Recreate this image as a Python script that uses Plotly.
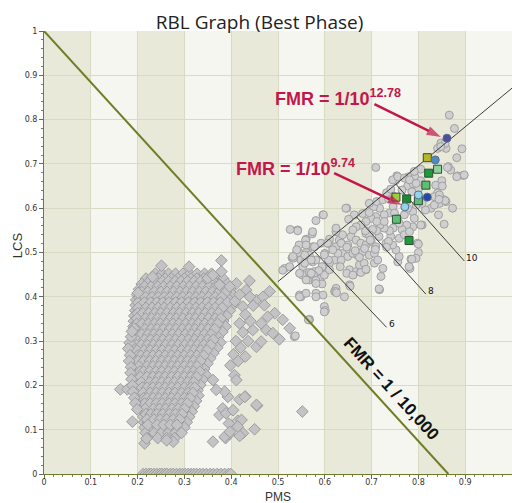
import plotly.graph_objects as go

# ---------------- data ----------------
x_ticks = [0, 0.1, 0.2, 0.3, 0.4, 0.5, 0.6, 0.7, 0.8, 0.9, 1.0]

# impostor cluster: rows (y) with x positions
imp_row_y = [0.452, 0.441, 0.429, 0.417, 0.405, 0.393, 0.381, 0.369, 0.357, 0.345,
             0.333, 0.321, 0.309, 0.297, 0.285, 0.273, 0.261, 0.249, 0.237, 0.225,
             0.213, 0.201, 0.189, 0.177, 0.165, 0.153, 0.141, 0.129, 0.117, 0.105,
             0.093, 0.081]
imp_row_x = [
    [0.238, 0.252, 0.266, 0.281, 0.297, 0.312, 0.327, 0.343, 0.358],
    [0.218, 0.231, 0.245, 0.259, 0.272, 0.286, 0.300, 0.314, 0.327, 0.341, 0.355, 0.369, 0.383],
    [0.209, 0.222, 0.236, 0.249, 0.263, 0.277, 0.291, 0.304, 0.318, 0.332, 0.346, 0.360, 0.374, 0.392],
    [0.203, 0.216, 0.229, 0.243, 0.256, 0.270, 0.284, 0.297, 0.311, 0.325, 0.339, 0.353, 0.367, 0.381, 0.398],
    [0.199, 0.211, 0.224, 0.237, 0.250, 0.263, 0.277, 0.290, 0.304, 0.318, 0.331, 0.345, 0.359, 0.373, 0.387, 0.403],
    [0.197, 0.206, 0.218, 0.231, 0.244, 0.257, 0.270, 0.284, 0.297, 0.311, 0.325, 0.338, 0.352, 0.366, 0.380, 0.396],
    [0.196, 0.211, 0.224, 0.237, 0.250, 0.263, 0.277, 0.290, 0.304, 0.318, 0.331, 0.345, 0.359, 0.373, 0.388, 0.404],
    [0.195, 0.205, 0.218, 0.231, 0.244, 0.257, 0.270, 0.284, 0.297, 0.311, 0.325, 0.338, 0.352, 0.366, 0.381, 0.397],
    [0.193, 0.211, 0.224, 0.237, 0.250, 0.263, 0.277, 0.290, 0.304, 0.318, 0.331, 0.345, 0.359, 0.374, 0.390],
    [0.192, 0.204, 0.217, 0.230, 0.243, 0.256, 0.270, 0.283, 0.297, 0.311, 0.324, 0.338, 0.352, 0.367, 0.383],
    [0.191, 0.210, 0.223, 0.236, 0.249, 0.262, 0.276, 0.289, 0.303, 0.317, 0.330, 0.344, 0.358, 0.373, 0.388],
    [0.190, 0.203, 0.216, 0.229, 0.242, 0.255, 0.269, 0.282, 0.296, 0.310, 0.323, 0.337, 0.351, 0.366, 0.381],
    [0.190, 0.209, 0.222, 0.235, 0.248, 0.261, 0.275, 0.288, 0.302, 0.316, 0.329, 0.343, 0.357, 0.372],
    [0.190, 0.202, 0.215, 0.228, 0.241, 0.254, 0.268, 0.281, 0.295, 0.309, 0.322, 0.336, 0.350, 0.365, 0.377],
    [0.191, 0.208, 0.221, 0.234, 0.247, 0.260, 0.274, 0.287, 0.301, 0.315, 0.328, 0.342, 0.356, 0.370],
    [0.192, 0.201, 0.214, 0.227, 0.240, 0.253, 0.267, 0.280, 0.294, 0.308, 0.321, 0.335, 0.349, 0.362],
    [0.193, 0.207, 0.220, 0.233, 0.246, 0.259, 0.273, 0.286, 0.300, 0.314, 0.327, 0.341, 0.355],
    [0.195, 0.201, 0.213, 0.226, 0.239, 0.252, 0.266, 0.279, 0.293, 0.307, 0.320, 0.334, 0.349],
    [0.196, 0.207, 0.220, 0.233, 0.246, 0.259, 0.273, 0.286, 0.300, 0.314, 0.327, 0.342],
    [0.198, 0.213, 0.226, 0.239, 0.252, 0.266, 0.279, 0.293, 0.307, 0.320, 0.334, 0.345],
    [0.200, 0.207, 0.220, 0.233, 0.246, 0.259, 0.273, 0.286, 0.300, 0.314, 0.327, 0.339],
    [0.203, 0.214, 0.227, 0.240, 0.253, 0.267, 0.280, 0.294, 0.308, 0.321, 0.334],
    [0.205, 0.220, 0.233, 0.246, 0.259, 0.273, 0.286, 0.300, 0.314, 0.328],
    [0.207, 0.214, 0.227, 0.240, 0.253, 0.267, 0.280, 0.294, 0.308, 0.321, 0.330],
    [0.208, 0.221, 0.234, 0.247, 0.260, 0.274, 0.287, 0.301, 0.315, 0.325],
    [0.209, 0.215, 0.228, 0.241, 0.254, 0.268, 0.281, 0.295, 0.309, 0.320],
    [0.211, 0.222, 0.235, 0.248, 0.261, 0.275, 0.288, 0.302, 0.316],
    [0.212, 0.229, 0.242, 0.255, 0.269, 0.282, 0.296, 0.310],
    [0.214, 0.222, 0.236, 0.249, 0.263, 0.277, 0.291, 0.305],
    [0.215, 0.229, 0.243, 0.257, 0.271, 0.286, 0.300],
    [0.217, 0.236, 0.251, 0.266, 0.281, 0.294],
    [0.220, 0.243, 0.262, 0.279],
]

# denser inner part of the impostor cluster (between the rows above)
imp_inner_y = [0.435, 0.423, 0.411, 0.399, 0.387, 0.375, 0.363, 0.351, 0.339, 0.327,
               0.315, 0.303, 0.291, 0.279, 0.267, 0.255, 0.243, 0.231, 0.219, 0.207,
               0.195, 0.183, 0.171, 0.159, 0.147, 0.135, 0.123, 0.111]
imp_inner_x = [
    [0.225, 0.239, 0.253, 0.266, 0.280, 0.293, 0.307, 0.321, 0.335, 0.349, 0.362],
    [0.215, 0.229, 0.243, 0.256, 0.270, 0.284, 0.298, 0.311, 0.325, 0.339, 0.353, 0.367, 0.380],
    [0.209, 0.222, 0.236, 0.250, 0.263, 0.277, 0.291, 0.304, 0.318, 0.332, 0.346, 0.360, 0.374, 0.389],
    [0.204, 0.217, 0.231, 0.244, 0.257, 0.270, 0.284, 0.297, 0.311, 0.325, 0.338, 0.352, 0.366, 0.380],
    [0.201, 0.214, 0.228, 0.241, 0.254, 0.267, 0.281, 0.294, 0.308, 0.322, 0.335, 0.349, 0.363, 0.377, 0.392],
    [0.201, 0.218, 0.231, 0.244, 0.257, 0.270, 0.284, 0.297, 0.311, 0.325, 0.338, 0.352, 0.366, 0.381],
    [0.200, 0.211, 0.224, 0.237, 0.250, 0.263, 0.277, 0.290, 0.304, 0.318, 0.331, 0.345, 0.359, 0.373],
    [0.199, 0.217, 0.230, 0.243, 0.256, 0.270, 0.283, 0.297, 0.311, 0.324, 0.338, 0.352, 0.366, 0.378],
    [0.198, 0.210, 0.223, 0.236, 0.249, 0.262, 0.276, 0.289, 0.303, 0.317, 0.330, 0.344, 0.358, 0.371],
    [0.197, 0.216, 0.229, 0.242, 0.255, 0.269, 0.282, 0.296, 0.310, 0.323, 0.337, 0.351, 0.365],
    [0.197, 0.209, 0.222, 0.235, 0.248, 0.261, 0.275, 0.288, 0.302, 0.316, 0.329, 0.343, 0.357],
    [0.197, 0.215, 0.228, 0.241, 0.254, 0.268, 0.281, 0.295, 0.309, 0.322, 0.336, 0.350, 0.362],
    [0.198, 0.208, 0.221, 0.234, 0.247, 0.260, 0.274, 0.287, 0.301, 0.315, 0.328, 0.342, 0.356],
    [0.199, 0.214, 0.227, 0.240, 0.253, 0.267, 0.280, 0.294, 0.308, 0.321, 0.335, 0.348],
    [0.200, 0.207, 0.220, 0.233, 0.246, 0.259, 0.273, 0.286, 0.300, 0.314, 0.327, 0.341],
    [0.201, 0.213, 0.226, 0.239, 0.252, 0.266, 0.279, 0.293, 0.307, 0.320, 0.334],
    [0.203, 0.220, 0.233, 0.246, 0.259, 0.273, 0.286, 0.300, 0.314, 0.327],
    [0.205, 0.213, 0.226, 0.239, 0.252, 0.266, 0.279, 0.293, 0.307, 0.320, 0.333],
    [0.206, 0.220, 0.233, 0.246, 0.259, 0.273, 0.286, 0.300, 0.314, 0.326],
    [0.208, 0.226, 0.239, 0.252, 0.266, 0.279, 0.293, 0.307, 0.320],
    [0.210, 0.220, 0.233, 0.246, 0.259, 0.273, 0.286, 0.300, 0.314, 0.322],
    [0.212, 0.227, 0.240, 0.253, 0.267, 0.280, 0.294, 0.308, 0.318],
    [0.213, 0.220, 0.233, 0.246, 0.259, 0.273, 0.286, 0.300, 0.312],
    [0.215, 0.227, 0.240, 0.253, 0.267, 0.280, 0.294, 0.306],
    [0.216, 0.234, 0.247, 0.260, 0.274, 0.287, 0.300],
    [0.218, 0.228, 0.241, 0.254, 0.268, 0.281, 0.295],
    [0.220, 0.235, 0.248, 0.262, 0.276, 0.290],
    [0.222, 0.242, 0.256, 0.270, 0.284],
]

# impostor scores scattered around the cluster edge
imp_edge = [
    (0.163, 0.191), (0.178, 0.191), (0.189, 0.118), (0.552, 0.141), (0.455, 0.154),
    (0.450, 0.101), (0.430, 0.175), (0.418, 0.168), (0.395, 0.114), (0.414, 0.120),
    (0.425, 0.092), (0.418, 0.086), (0.388, 0.081), (0.396, 0.090), (0.361, 0.073),
    (0.276, 0.073), (0.262, 0.076), (0.215, 0.069), (0.219, 0.080),
    (0.251, 0.470), (0.310, 0.468), (0.379, 0.482), (0.379, 0.457), (0.201, 0.409),
    (0.192, 0.329), (0.439, 0.436), (0.432, 0.415), (0.232, 0.445), (0.411, 0.430),
    (0.397, 0.423), (0.425, 0.378), (0.454, 0.393), (0.454, 0.287), (0.446, 0.325),
    (0.407, 0.223), (0.411, 0.212), (0.429, 0.174), (0.454, 0.156), (0.422, 0.122),
    (0.414, 0.107), (0.386, 0.084), (0.397, 0.095), (0.375, 0.133), (0.382, 0.148),
    (0.389, 0.137), (0.404, 0.144), (0.393, 0.174), (0.386, 0.186), (0.368, 0.190),
    (0.361, 0.212), (0.468, 0.400), (0.482, 0.412), (0.471, 0.381), (0.493, 0.363),
    (0.478, 0.355), (0.510, 0.348), (0.525, 0.329), (0.464, 0.340), (0.475, 0.325),
    (0.489, 0.318), (0.503, 0.304), (0.464, 0.299), (0.440, 0.400), (0.447, 0.380),
    (0.430, 0.360), (0.441, 0.345), (0.418, 0.340), (0.425, 0.320), (0.436, 0.300),
    (0.410, 0.300), (0.420, 0.285), (0.405, 0.270), (0.415, 0.255), (0.398, 0.245),
    (0.430, 0.265), (0.408, 0.390), (0.418, 0.405), (0.350, 0.442), (0.361, 0.449),
    (0.375, 0.427),
    (0.183, 0.296), (0.180, 0.283), (0.184, 0.268), (0.182, 0.255), (0.186, 0.241),
    (0.185, 0.228), (0.187, 0.214), (0.189, 0.200), (0.190, 0.186), (0.193, 0.172),
    (0.195, 0.160), (0.199, 0.146), (0.186, 0.310), (0.188, 0.322),
]

# impostor scores sitting on LCS = 0
imp_zero_x = [0.212, 0.218, 0.224, 0.229, 0.235, 0.241, 0.247, 0.252, 0.258, 0.263,
              0.270, 0.276, 0.283, 0.290, 0.296, 0.302, 0.308, 0.314, 0.320, 0.326,
              0.333, 0.340, 0.347, 0.355, 0.362, 0.370, 0.378, 0.386, 0.394, 0.399]

# genuine scores (grey circles)
genuine = [
    (0.542, 0.551), (0.545, 0.517), (0.560, 0.530), (0.573, 0.542), (0.560, 0.500),
    (0.540, 0.500), (0.530, 0.488), (0.549, 0.483), (0.574, 0.513), (0.592, 0.521),
    (0.600, 0.498), (0.610, 0.519), (0.624, 0.513), (0.631, 0.528), (0.649, 0.517),
    (0.656, 0.536), (0.667, 0.528), (0.677, 0.521), (0.688, 0.517), (0.699, 0.525),
    (0.709, 0.513), (0.688, 0.543), (0.638, 0.498), (0.649, 0.491), (0.660, 0.498),
    (0.670, 0.494), (0.681, 0.502), (0.695, 0.494), (0.706, 0.498), (0.621, 0.483),
    (0.635, 0.483), (0.610, 0.476), (0.596, 0.468), (0.589, 0.455), (0.578, 0.457),
    (0.567, 0.438), (0.580, 0.434), (0.589, 0.440), (0.599, 0.449), (0.553, 0.468),
    (0.514, 0.464), (0.574, 0.479), (0.653, 0.461), (0.667, 0.457), (0.677, 0.457),
    (0.688, 0.461), (0.674, 0.472), (0.684, 0.476), (0.720, 0.446), (0.717, 0.416),
    (0.624, 0.419), (0.621, 0.412), (0.653, 0.427), (0.546, 0.404), (0.549, 0.400),
    (0.581, 0.408), (0.599, 0.378), (0.601, 0.369), (0.567, 0.349), (0.706, 0.476),
    (0.713, 0.483), (0.756, 0.479), (0.759, 0.491), (0.731, 0.521), (0.741, 0.536),
    (0.716, 0.536), (0.638, 0.540), (0.624, 0.547),
    (0.709, 0.692), (0.754, 0.673), (0.751, 0.662), (0.779, 0.671), (0.793, 0.670),
    (0.777, 0.650), (0.789, 0.655), (0.805, 0.662), (0.800, 0.643), (0.786, 0.637),
    (0.765, 0.641), (0.850, 0.662), (0.837, 0.652), (0.851, 0.650), (0.841, 0.634),
    (0.834, 0.626), (0.855, 0.619), (0.869, 0.686), (0.884, 0.673), (0.896, 0.674),
    (0.864, 0.694), (0.873, 0.600), (0.845, 0.611), (0.827, 0.600), (0.815, 0.596),
    (0.808, 0.611), (0.795, 0.607), (0.788, 0.592), (0.843, 0.585), (0.855, 0.564),
    (0.808, 0.562), (0.791, 0.577), (0.788, 0.558), (0.775, 0.562), (0.765, 0.552),
    (0.759, 0.566), (0.746, 0.555), (0.738, 0.549), (0.727, 0.555), (0.718, 0.562),
    (0.711, 0.549), (0.702, 0.552), (0.695, 0.540), (0.687, 0.549), (0.798, 0.521),
    (0.800, 0.500), (0.795, 0.487), (0.784, 0.485), (0.782, 0.464), (0.752, 0.506),
    (0.745, 0.517), (0.736, 0.525), (0.732, 0.512), (0.759, 0.532), (0.770, 0.540),
    (0.781, 0.547), (0.717, 0.600), (0.704, 0.603), (0.695, 0.611), (0.711, 0.615),
    (0.724, 0.619), (0.736, 0.622), (0.745, 0.628), (0.732, 0.635), (0.741, 0.643),
    (0.746, 0.604), (0.738, 0.589), (0.749, 0.589), (0.727, 0.585), (0.709, 0.581),
    (0.699, 0.577), (0.688, 0.570), (0.677, 0.562), (0.667, 0.558), (0.681, 0.588),
    (0.695, 0.590), (0.711, 0.570), (0.727, 0.570), (0.756, 0.577), (0.770, 0.585),
    (0.777, 0.600), (0.647, 0.600), (0.663, 0.585), (0.651, 0.575), (0.596, 0.585),
    (0.581, 0.572), (0.559, 0.528), (0.574, 0.547), (0.542, 0.549), (0.526, 0.552),
    (0.610, 0.530), (0.624, 0.555), (0.635, 0.521), (0.647, 0.512), (0.665, 0.504),
    (0.674, 0.489), (0.685, 0.509), (0.697, 0.528), (0.708, 0.507), (0.628, 0.498),
    (0.617, 0.506), (0.608, 0.483), (0.599, 0.495), (0.594, 0.468), (0.587, 0.459),
    (0.576, 0.449), (0.567, 0.455), (0.557, 0.476), (0.544, 0.500), (0.540, 0.506),
    (0.533, 0.487), (0.552, 0.449), (0.581, 0.437), (0.594, 0.429), (0.610, 0.461),
    (0.633, 0.468), (0.647, 0.453), (0.660, 0.449), (0.677, 0.455), (0.688, 0.462),
    (0.623, 0.412), (0.642, 0.400), (0.596, 0.404), (0.581, 0.400), (0.567, 0.494),
    (0.581, 0.483), (0.606, 0.521), (0.660, 0.551), (0.724, 0.464),
    (0.866, 0.810), (0.877, 0.780), (0.848, 0.747), (0.859, 0.735), (0.841, 0.735),
    (0.893, 0.734), (0.882, 0.714), (0.862, 0.692), (0.898, 0.675), (0.882, 0.671),
    (0.805, 0.688), (0.791, 0.683), (0.745, 0.664), (0.756, 0.671), (0.770, 0.668),
    (0.781, 0.664), (0.795, 0.656), (0.845, 0.630), (0.859, 0.615), (0.834, 0.607),
    (0.645, 0.600), (0.597, 0.585), (0.857, 0.746), (0.848, 0.739), (0.857, 0.617),
    (0.844, 0.620), (0.805, 0.562), (0.800, 0.519), (0.786, 0.485), (0.780, 0.468),
    (0.510, 0.460), (0.525, 0.468), (0.546, 0.453), (0.560, 0.438), (0.571, 0.453),
    (0.581, 0.430), (0.560, 0.408), (0.546, 0.400), (0.535, 0.310), (0.567, 0.348),
    (0.578, 0.513), (0.560, 0.517), (0.532, 0.491), (0.557, 0.494), (0.571, 0.483),
    (0.599, 0.366), (0.565, 0.348), (0.537, 0.312), (0.625, 0.409), (0.654, 0.424),
    (0.716, 0.418),
]

# highlighted genuine samples
hl_circle_x = [0.861, 0.836, 0.800, 0.819, 0.771]
hl_circle_y = [0.758, 0.709, 0.630, 0.625, 0.603]
hl_circle_col = ["#4c4f9e", "#4a8dc6", "#92d4ec", "#2546aa", "#92d4ec"]
hl_square_x = [0.819, 0.841, 0.822, 0.816, 0.775, 0.752, 0.800, 0.753, 0.780]
hl_square_y = [0.714, 0.688, 0.679, 0.652, 0.621, 0.625, 0.617, 0.575, 0.527]
hl_square_col = ["#b8b52c", "#8fd19e", "#1f9a3c", "#5cc074", "#1b8a34",
                 "#9ccd3c", "#5cc074", "#5cc07a", "#1f9a3c"]

# reference lines
fmr_line_x = [0.0, 0.864]
fmr_line_y = [1.0, 0.0]
diag_x = [0.4996, 1.0]
diag_y = [0.434, 0.871]
iso_labels = ["6", "8", "10"]
iso_x0 = [0.578, 0.668, 0.752]
iso_y0 = [0.502, 0.580, 0.654]
iso_x1 = [0.732, 0.816, 0.898]
iso_y1 = [0.331, 0.406, 0.481]

# callout arrows (tail -> head)
arrow_x = [[0.706, 0.848], [0.620, 0.765]]
arrow_y = [[0.835, 0.761], [0.679, 0.607]]

# ---------------- figure ----------------
fig = go.Figure()

band_dark = "#e8e9d8"
shapes = []
for i in range(len(x_ticks) - 1):
    if i % 2 == 0:
        shapes.append(dict(type="rect", xref="x", yref="y", x0=x_ticks[i], x1=x_ticks[i + 1],
                           y0=0, y1=1, fillcolor=band_dark, line=dict(width=0), layer="below"))

ix, iy = [], []
for yv, xs in zip(imp_row_y, imp_row_x):
    for xv in xs:
        ix.append(xv)
        iy.append(yv)
for yv, xs in zip(imp_inner_y, imp_inner_x):
    for xv in xs:
        ix.append(xv)
        iy.append(yv)
for xv, yv in imp_edge:
    ix.append(xv)
    iy.append(yv)
for xv in imp_zero_x:
    ix.append(xv)
    iy.append(0.0)

fig.add_trace(go.Scatter(x=ix, y=iy, mode="markers",
                         marker=dict(symbol="diamond", size=9, color="#c3c3c5",
                                     line=dict(color="#9c9c9f", width=1))))

fig.add_trace(go.Scatter(x=[p[0] for p in genuine], y=[p[1] for p in genuine], mode="markers",
                         marker=dict(symbol="circle", size=8, color="#cfcfd0",
                                     line=dict(color="#a0a0a3", width=1))))

fig.add_trace(go.Scatter(x=fmr_line_x, y=fmr_line_y, mode="lines",
                         line=dict(color="#6f7d24", width=2)))
fig.add_trace(go.Scatter(x=diag_x, y=diag_y, mode="lines",
                         line=dict(color="#3c3c3c", width=1)))
for k in range(len(iso_labels)):
    fig.add_trace(go.Scatter(x=[iso_x0[k], iso_x1[k]], y=[iso_y0[k], iso_y1[k]], mode="lines",
                             line=dict(color="#3c3c3c", width=1)))

fig.add_trace(go.Scatter(x=hl_square_x, y=hl_square_y, mode="markers",
                         marker=dict(symbol="square", size=8, color=hl_square_col,
                                     line=dict(color="#2f4f2f", width=1))))
fig.add_trace(go.Scatter(x=hl_circle_x, y=hl_circle_y, mode="markers",
                         marker=dict(symbol="circle", size=8, color=hl_circle_col,
                                     line=dict(color="#5a6a8a", width=1))))

red = "#c3174b"
for ax_, ay_ in zip(arrow_x, arrow_y):
    fig.add_trace(go.Scatter(x=ax_, y=ay_, mode="lines+markers", cliponaxis=False,
                             line=dict(color=red, width=2.5),
                             marker=dict(symbol=["circle", "arrow"], size=[0, 15], angleref="previous",
                                         color=red, line=dict(width=0))))

ann = []
for k in range(len(iso_labels)):
    ann.append(dict(x=iso_x1[k], y=iso_y1[k], xref="x", yref="y", text=iso_labels[k],
                    showarrow=False, xanchor="left", yanchor="middle", xshift=0, yshift=3,
                    font=dict(family="DejaVu Sans", size=9, color="#111")))
ann.append(dict(x=0.490, y=0.851, xref="x", yref="y", text="<b>FMR = 1/10<sup>12.78</sup></b>",
                showarrow=False, xanchor="left", yanchor="middle",
                font=dict(family="Liberation Sans", size=18, color=red)))
ann.append(dict(x=0.407, y=0.693, xref="x", yref="y", text="<b>FMR = 1/10<sup>9.74</sup></b>",
                showarrow=False, xanchor="left", yanchor="middle",
                font=dict(family="Liberation Sans", size=18, color=red)))
ann.append(dict(x=0.741, y=0.192, xref="x", yref="y", text="<b>FMR = 1 / 10,000</b>",
                showarrow=False, textangle=47.6,
                font=dict(family="Liberation Sans", size=17, color="#111")))
ann.append(dict(x=0.5, y=-0.052, xref="paper", yref="paper", text="PMS", showarrow=False,
                xanchor="center", yanchor="middle",
                font=dict(family="Liberation Sans", size=12, color="#333")))
ann.append(dict(x=-0.055, y=0.517, xref="paper", yref="paper", text="LCS", showarrow=False,
                textangle=-90, xanchor="center", yanchor="middle",
                font=dict(family="Liberation Sans", size=13, color="#333")))

axis_common = dict(range=[0, 1], dtick=0.1, tick0=0, showgrid=True, gridcolor="#d8dbc4", gridwidth=1,
                   zeroline=False, showline=True, linecolor="#6d7c2a", linewidth=1,
                   ticks="outside", ticklen=4, tickcolor="#666",
                   tickfont=dict(size=8, color="#333", family="DejaVu Sans"),
                   minor=dict(dtick=0.02, ticks="outside", ticklen=2, tickcolor="#777", showgrid=False),
                   automargin=False, fixedrange=True)

fig.update_layout(
    width=512, height=503,
    margin=dict(l=44, r=0, t=31, b=29),
    paper_bgcolor="white", plot_bgcolor="#f5f6f0",
    showlegend=False,
    template="none",
    shapes=shapes,
    annotations=ann,
    title=dict(text="RBL Graph (Best Phase)", x=0.507, xref="container", xanchor="center",
               y=1 - 22 / 503, yref="container", yanchor="middle",
               font=dict(family="Open Sans", size=19, color="#222")),
    xaxis=dict(axis_common, ticklabelstandoff=-4),
    yaxis=axis_common,
)

fig.write_html("out.html", config={"displayModeBar": False},
               post_script="document.body.style.margin='0px';document.body.style.overflow='hidden';")
